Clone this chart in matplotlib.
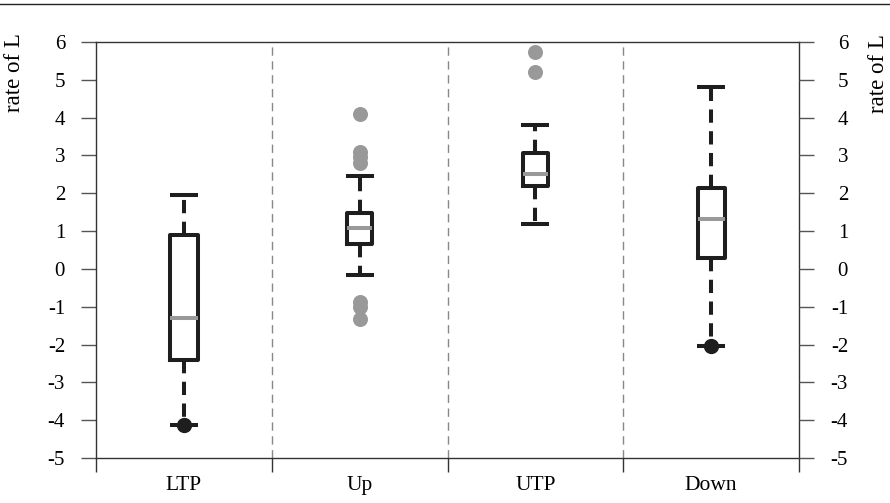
import matplotlib
matplotlib.use("Agg")
import matplotlib.pyplot as plt
from matplotlib.lines import Line2D

plt.rcParams['font.family'] = ['Liberation Serif', 'DejaVu Serif']

# datos
categorias = ['LTP', 'Up', 'UTP', 'Down']
q1 = [-2.42, 0.67, 2.2, 0.30]
mediana = [-1.31, 1.09, 2.51, 1.31]
q3 = [0.89, 1.47, 3.06, 2.13]
bigote_inf = [-4.13, -0.15, 1.19, -2.03]
bigote_sup = [1.95, 2.46, 3.80, 4.80]
atipicos = [[], [4.10, 3.08, 2.95, 2.80, -0.88, -1.02, -1.33], [5.73, 5.20], []]
puntos_negros = [-4.13, None, None, -2.03]
anchos = [0.158, 0.146, 0.144, 0.155]
y_ticks = list(range(-5, 7))

oscuro = '#1e1e1e'
gris = '#999999'
lw = 2.9

fig = plt.figure(figsize=(8.9, 5.03), dpi=100)
ax = fig.add_axes([0.1079, 0.0895, 0.7899, 0.827])

stats = []
for i, cat in enumerate(categorias):
    stats.append(dict(label=cat, med=mediana[i], q1=q1[i], q3=q3[i],
                      whislo=bigote_inf[i], whishi=bigote_sup[i],
                      fliers=atipicos[i]))

ax.bxp(stats, positions=[1, 2, 3, 4], widths=anchos, capwidths=0.16,
       boxprops=dict(color=oscuro, linewidth=lw),
       whiskerprops=dict(color=oscuro, linewidth=lw, linestyle=(0, (3.3, 2.1))),
       capprops=dict(color=oscuro, linewidth=lw, solid_capstyle='butt'),
       medianprops=dict(color=gris, linewidth=lw, solid_capstyle='butt'),
       flierprops=dict(marker='o', markerfacecolor=gris, markeredgecolor='none',
                       markersize=10.8),
       zorder=3)

for i, v in enumerate(puntos_negros):
    if v is not None:
        ax.plot(i + 1, v, 'o', color=oscuro, markersize=10, zorder=4)

# separadores
for xb in [1.5, 2.5, 3.5]:
    ax.axvline(xb, color='#888888', linewidth=1, linestyle=(0, (6, 4)), zorder=1)

ax.set_xlim(0.5, 4.5)
ax.set_ylim(-5, 6)

ax.set_xticks([0.5, 1.5, 2.5, 3.5, 4.5])
ax.set_xticklabels([])
ax.set_xticks([1, 2, 3, 4], minor=True)
ax.set_xticklabels(categorias, minor=True)
ax.tick_params(axis='x', which='major', direction='out', length=10, width=1, color='#333333')
ax.tick_params(axis='x', which='minor', length=0, pad=13, labelsize=15.5)

ax.set_yticks(y_ticks)
ax.set_yticklabels([str(t) for t in y_ticks])
ax.tick_params(axis='y', direction='out', length=10.8, width=1, color='#555555',
               pad=11.5, labelsize=15)

for s in ax.spines.values():
    s.set_color('#333333')
    s.set_linewidth(1)

ax2 = ax.twinx()
ax2.set_ylim(-5, 6)
ax2.set_yticks(y_ticks)
ax2.set_yticklabels([str(t) for t in y_ticks])
ax2.tick_params(axis='y', direction='out', length=10.8, width=1, color='#555555',
                pad=24.5, labelsize=15)
for lab in ax2.get_yticklabels():
    lab.set_horizontalalignment('right')
for s in ax2.spines.values():
    s.set_visible(False)

fig.text(15 / 890, 1 - 73 / 503, 'rate of L', rotation=90, ha='center', va='center', fontsize=16.5)
fig.text(878 / 890, 1 - 74 / 503, 'rate of L', rotation=90, ha='center', va='center', fontsize=16.5)

# linea superior
fig.add_artist(Line2D([0, 1], [1 - 3.5 / 503, 1 - 3.5 / 503], transform=fig.transFigure,
                      color='#222222', linewidth=1))

fig.savefig('out.png', dpi=100)
